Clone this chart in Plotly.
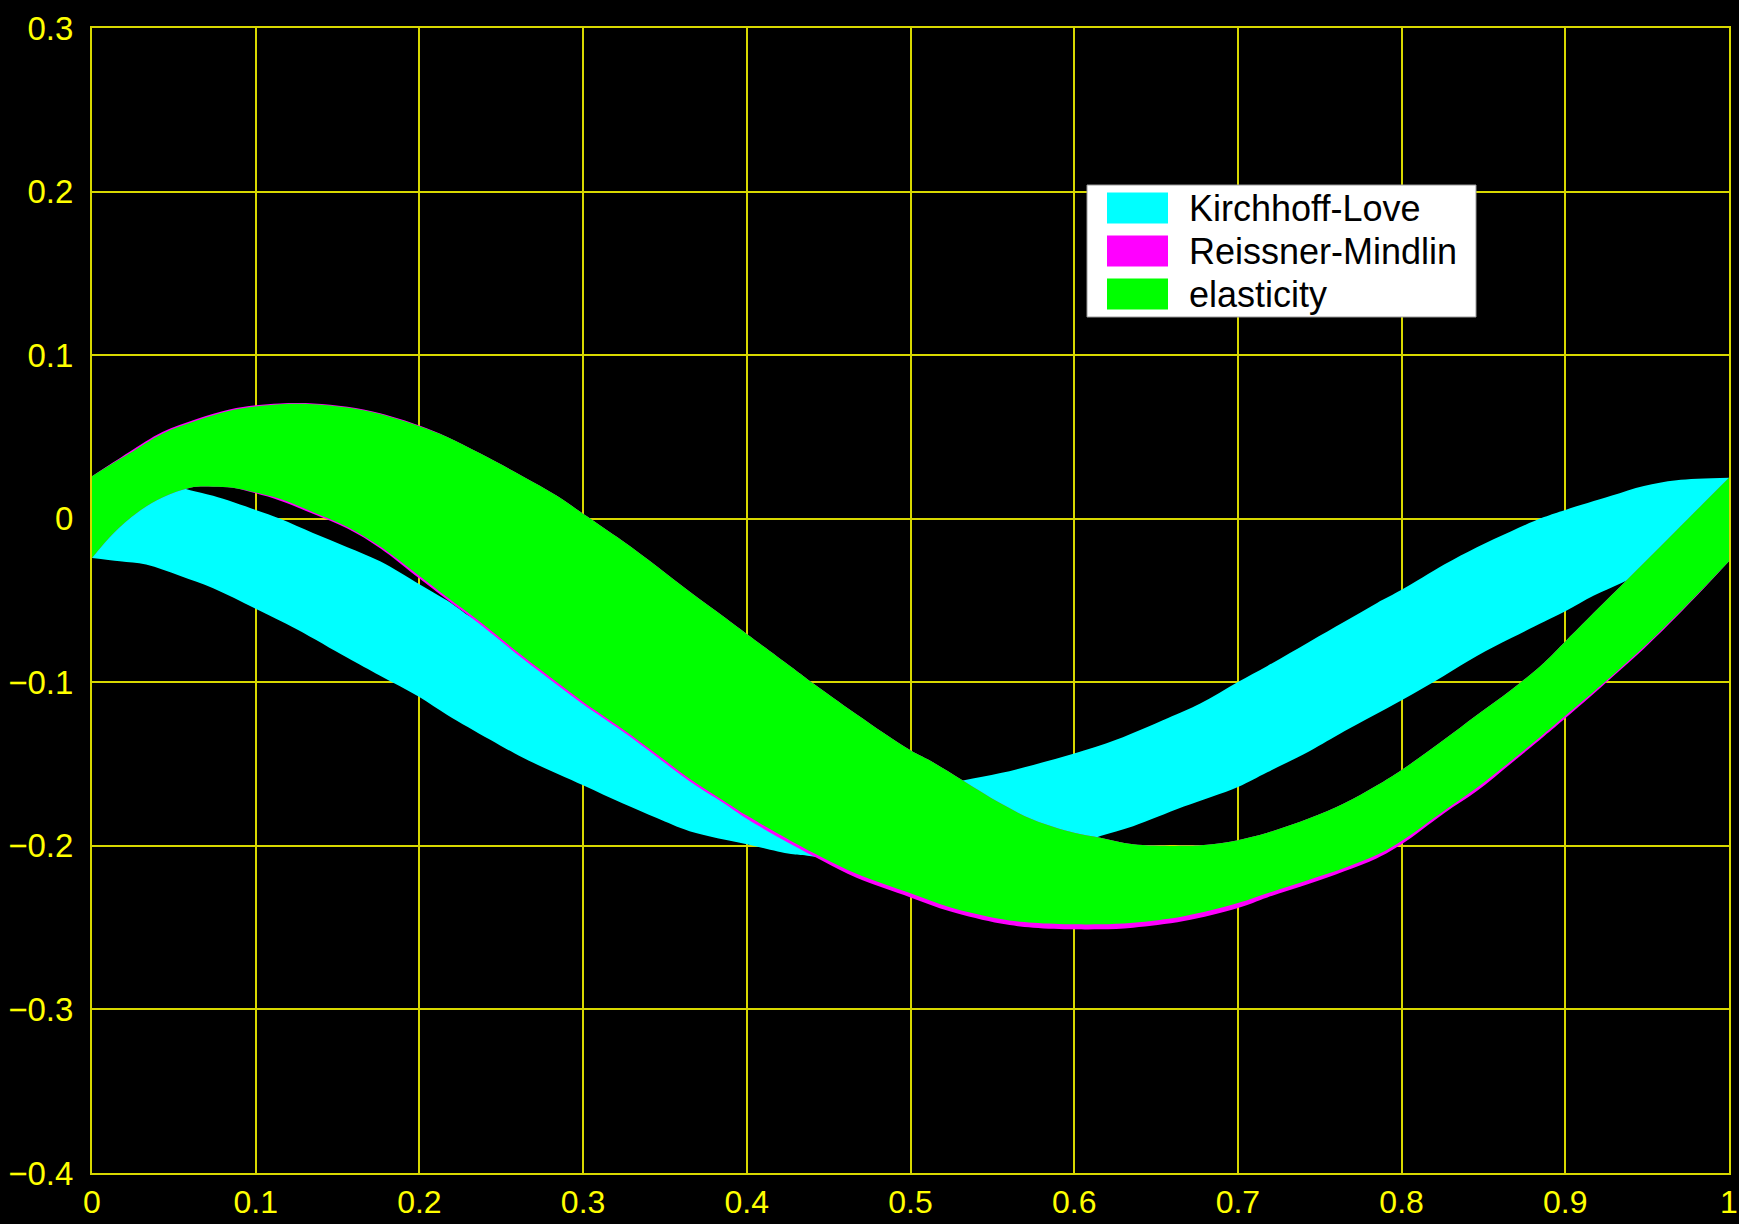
import plotly.graph_objects as go

# ---------------- data ----------------
series_names = ["Kirchhoff-Love", "Reissner-Mindlin", "elasticity"]
series_colors = ["#00ffff", "#ff00ff", "#00ff00"]

# Kirchhoff-Love band
kl_top_x = [0, 0.03, 0.05, 0.06, 0.074, 0.1, 0.115, 0.135, 0.156, 0.176, 0.2, 0.217, 0.237,
            0.3, 0.4, 0.45, 0.5, 0.532, 0.555, 0.575, 0.6, 0.626, 0.657, 0.677, 0.7, 0.718,
            0.744, 0.765, 0.785, 0.8, 0.826, 0.846, 0.867, 0.887, 0.9, 0.928, 0.948, 0.968, 1.0]
kl_top_y = [0.022, 0.024, 0.0205, 0.0174, 0.014, 0.0054, 0.0, -0.0087, -0.0174, -0.026, -0.040,
            -0.050, -0.063, -0.080, -0.140, -0.160, -0.165, -0.160, -0.1555, -0.1505, -0.1435,
            -0.135, -0.122, -0.113, -0.0998, -0.090, -0.075, -0.063, -0.0515, -0.0435, -0.028,
            -0.0174, -0.0076, 0.001, 0.0054, 0.014, 0.020, 0.0235, 0.025]
kl_bot_x = [0, 0.017, 0.033, 0.054, 0.074, 0.1, 0.125, 0.156, 0.176, 0.2, 0.217, 0.243, 0.263,
            0.3, 0.324, 0.345, 0.365, 0.4, 0.427, 0.437, 0.5, 0.55, 0.6, 0.616, 0.636, 0.667,
            0.7, 0.718, 0.744, 0.765, 0.8, 0.826, 0.846, 0.867, 0.887, 0.9, 0.9175, 0.935,
            0.965, 1.0]
kl_bot_y = [-0.024, -0.026, -0.028, -0.035, -0.0425, -0.055, -0.0675, -0.085, -0.096, -0.109,
            -0.120, -0.135, -0.146, -0.163, -0.174, -0.183, -0.191, -0.199, -0.205, -0.206,
            -0.215, -0.21, -0.20, -0.194, -0.188, -0.176, -0.164, -0.155, -0.142, -0.130,
            -0.111, -0.096, -0.084, -0.073, -0.063, -0.0566, -0.047, -0.039, -0.025, -0.01]

# elasticity band
el_top_x = [0, 0.013, 0.023, 0.043, 0.064, 0.084, 0.1, 0.115, 0.135, 0.156, 0.176, 0.2, 0.217,
            0.237, 0.263, 0.284, 0.3, 0.324, 0.345, 0.365, 0.386, 0.4, 0.427, 0.439, 0.467,
            0.5, 0.514, 0.532, 0.555, 0.575, 0.6, 0.616, 0.636, 0.667, 0.681, 0.7, 0.718,
            0.744, 0.765, 0.785, 0.8, 0.826, 0.846, 0.867, 0.887, 0.9, 0.928, 0.948, 0.968,
            0.989, 1.0]
el_top_y = [0.026, 0.034, 0.040, 0.052, 0.060, 0.066, 0.0686, 0.070, 0.070, 0.068, 0.064,
            0.0566, 0.050, 0.040, 0.026, 0.014, 0.003, -0.0135, -0.029, -0.0445, -0.060, -0.0705,
            -0.0905, -0.0995, -0.1195, -0.1416, -0.149, -0.160, -0.174, -0.184, -0.192, -0.195,
            -0.199, -0.200, -0.1993, -0.1965, -0.192, -0.183, -0.174, -0.163, -0.1536, -0.135,
            -0.120, -0.1046, -0.088, -0.075, -0.047, -0.027, -0.007, 0.014, 0.025]
el_bot_x = [0, 0.013, 0.028, 0.043, 0.060, 0.074, 0.086, 0.1, 0.115, 0.135, 0.156, 0.176, 0.2,
            0.217, 0.237, 0.263, 0.284, 0.3, 0.324, 0.345, 0.365, 0.386, 0.4, 0.427, 0.447,
            0.467, 0.5, 0.524, 0.555, 0.575, 0.6, 0.616, 0.636, 0.667, 0.7, 0.718, 0.744,
            0.765, 0.785, 0.8, 0.826, 0.846, 0.867, 0.887, 0.9, 0.924, 0.948, 0.979, 1.0]
el_bot_y = [-0.024, -0.009, 0.004, 0.013, 0.019, 0.0196, 0.019, 0.016, 0.012, 0.004, -0.005,
            -0.017, -0.035, -0.048, -0.063, -0.084, -0.100, -0.112, -0.1285, -0.144, -0.159,
            -0.1725, -0.1815, -0.197, -0.2075, -0.217, -0.229, -0.2375, -0.2447, -0.247, -0.248,
            -0.248, -0.247, -0.243, -0.235, -0.229, -0.2205, -0.2135, -0.2055, -0.197, -0.1785,
            -0.1645, -0.148, -0.1315, -0.1205, -0.100, -0.0785, -0.048, -0.026]

# Reissner-Mindlin band (almost entirely under the elasticity band)
rm_top_x = el_top_x
rm_top_y = [0.026, 0.0345, 0.041, 0.053, 0.061, 0.0668, 0.0693, 0.0705, 0.0705, 0.0685, 0.0645,
            0.057, 0.050, 0.040, 0.026, 0.014, 0.003, -0.0135, -0.029, -0.0445, -0.060, -0.0705,
            -0.0905, -0.0995, -0.1195, -0.1416, -0.149, -0.160, -0.174, -0.184, -0.192, -0.195,
            -0.199, -0.200, -0.1993, -0.1965, -0.192, -0.183, -0.174, -0.163, -0.1536, -0.135,
            -0.120, -0.1046, -0.088, -0.075, -0.047, -0.027, -0.007, 0.014, 0.025]
rm_bot_x = el_bot_x
rm_bot_y = [-0.024, -0.009, 0.004, 0.013, 0.019, 0.0196, 0.019, 0.0155, 0.011, 0.003, -0.006,
            -0.018, -0.0365, -0.0495, -0.0645, -0.0855, -0.1015, -0.1135, -0.130, -0.1455,
            -0.1605, -0.174, -0.1835, -0.199, -0.2095, -0.2195, -0.2315, -0.240, -0.2475,
            -0.250, -0.251, -0.251, -0.250, -0.246, -0.238, -0.2315, -0.223, -0.2155, -0.2075,
            -0.199, -0.180, -0.1665, -0.1495, -0.133, -0.122, -0.101, -0.0795, -0.0485,
            -0.026]

x_ticks = [0, 0.1, 0.2, 0.3, 0.4, 0.5, 0.6, 0.7, 0.8, 0.9, 1.0]
x_tick_labels = ["0", "0.1", "0.2", "0.3", "0.4", "0.5", "0.6", "0.7", "0.8", "0.9", "1"]
y_ticks = [-0.4, -0.3, -0.2, -0.1, 0, 0.1, 0.2, 0.3]
y_tick_labels = ["\u22120.4", "\u22120.3", "\u22120.2", "\u22120.1", "0", "0.1", "0.2", "0.3"]

# ---------------- figure ----------------
bands = [
    (kl_top_x, kl_top_y, kl_bot_x, kl_bot_y),
    (rm_top_x, rm_top_y, rm_bot_x, rm_bot_y),
    (el_top_x, el_top_y, el_bot_x, el_bot_y),
]

fig = go.Figure()
for (tx, ty, bx, by), name, col in zip(bands, series_names, series_colors):
    # lower edge, then upper edge filled down to it
    fig.add_trace(go.Scatter(
        x=bx, y=by, mode="lines", line=dict(width=0, color=col, shape="spline", smoothing=1.0),
        showlegend=False, hoverinfo="skip", name=name,
    ))
    fig.add_trace(go.Scatter(
        x=tx, y=ty, mode="lines", fill="tonexty", fillcolor=col,
        line=dict(width=0, color=col, shape="spline", smoothing=1.0),
        showlegend=False, hoverinfo="skip", name=name,
    ))

FONT = "Liberation Sans, Arial, Helvetica, sans-serif"
YEL = "#ffff00"
GRID = "#d8d800"

W, H = 1739, 1224
ml, mr, mt, mb = 92, 10, 28, 51

fig.update_layout(
    width=W, height=H,
    margin=dict(l=ml, r=mr, t=mt, b=mb, pad=0),
    paper_bgcolor="black", plot_bgcolor="black",
    showlegend=False,
    font=dict(family=FONT, color=YEL, size=32),
)
fig.update_xaxes(
    range=[0, 1], tickvals=x_ticks, ticktext=x_tick_labels,
    showgrid=True, gridcolor=GRID, gridwidth=2,
    showline=True, linecolor=GRID, linewidth=2, mirror=True,
    zeroline=False, ticks="", ticklabelstandoff=0, automargin=False,
    tickfont=dict(family=FONT, color=YEL, size=32),
)
fig.update_yaxes(
    range=[-0.4, 0.3], tickvals=y_ticks, ticktext=y_tick_labels,
    showgrid=True, gridcolor=GRID, gridwidth=2,
    showline=True, linecolor=GRID, linewidth=2, mirror=True,
    zeroline=False, ticks="", ticklabelstandoff=10, automargin=False,
    tickfont=dict(family=FONT, color=YEL, size=33),
)

# ---------------- legend box (drawn manually, paper coordinates) ----------------
pw = W - ml - mr
ph = H - mt - mb
def px(X):
    return (X - ml) / pw
def py(Y):
    return (H - mb - Y) / ph

shapes = [dict(type="rect", xref="paper", yref="paper",
               x0=px(1087), x1=px(1476), y0=py(317), y1=py(185),
               fillcolor="white", line=dict(color="#9a9a9a", width=1), layer="above")]
row_centers = [208, 251, 294]
annotations = []
for name, col, yc in zip(series_names, series_colors, row_centers):
    shapes.append(dict(type="rect", xref="paper", yref="paper",
                       x0=px(1107), x1=px(1168), y0=py(yc + 15.5), y1=py(yc - 15.5),
                       fillcolor=col, line=dict(width=0), layer="above"))
    annotations.append(dict(xref="paper", yref="paper", x=px(1187), y=py(yc),
                            text=name, showarrow=False, xanchor="left", yanchor="middle",
                            font=dict(family=FONT, color="black", size=36)))
fig.update_layout(shapes=shapes, annotations=annotations)

fig.write_html(
    "out.html",
    config={"displayModeBar": False},
    post_script="document.body.style.margin='0';document.body.style.background='black';"
                "document.documentElement.style.background='black';",
)
